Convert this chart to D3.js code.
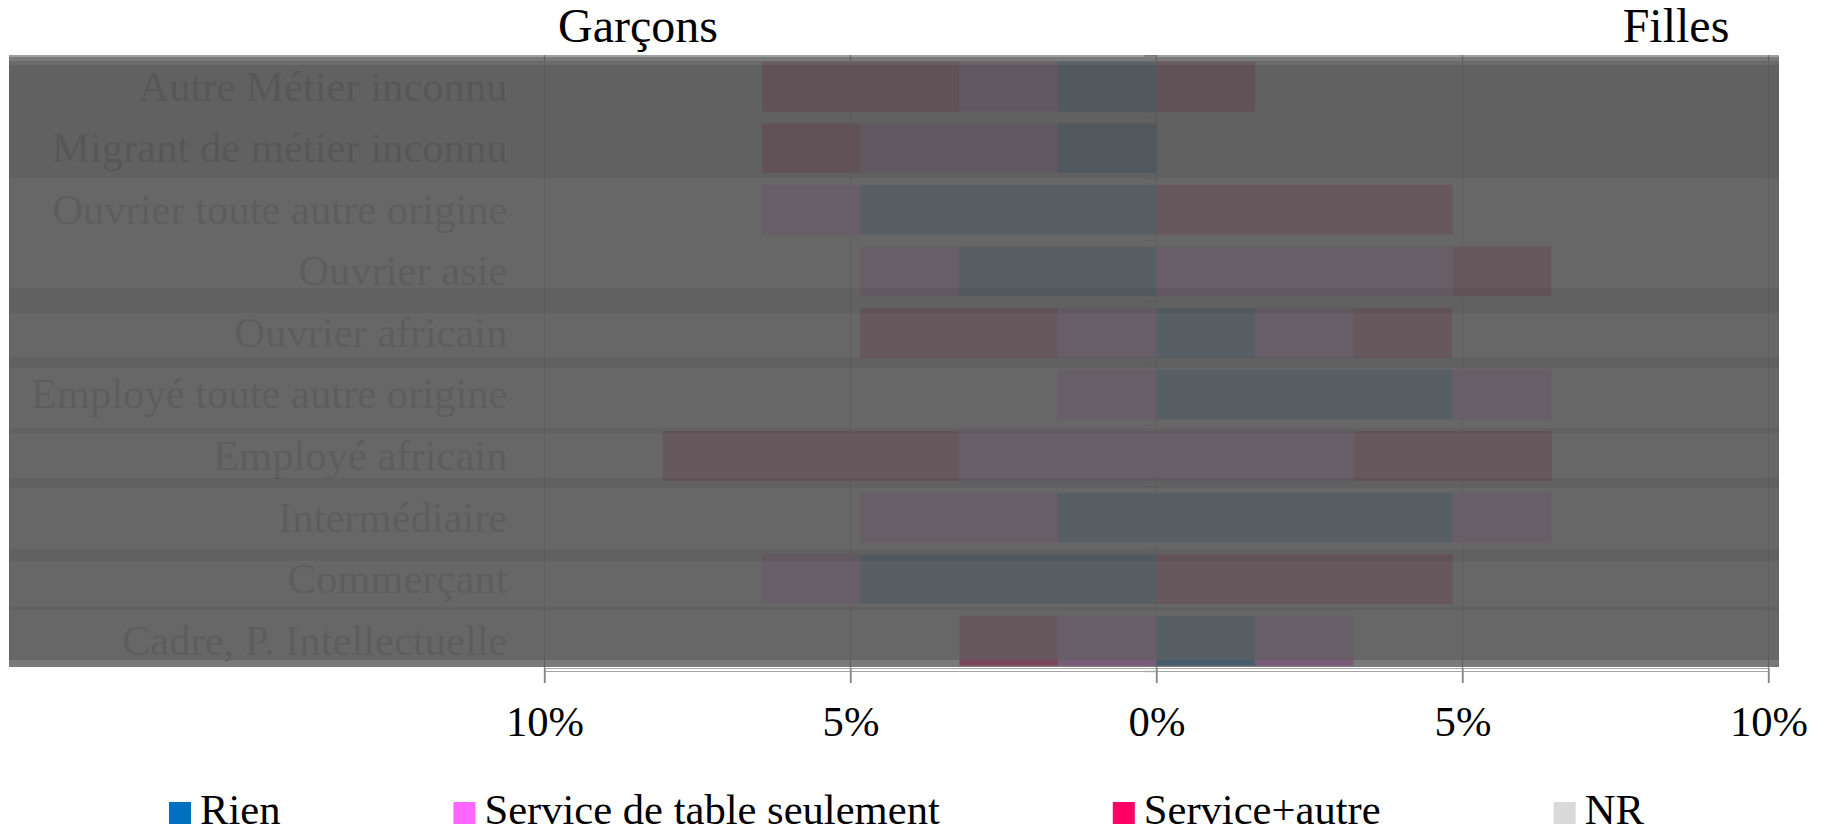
<!DOCTYPE html>
<html lang="fr">
<head>
<meta charset="UTF-8">
<title>Garçons / Filles</title>
<style>
  html, body { margin: 0; padding: 0; background: #fff; }
  svg { display: block; font-family: "Liberation Serif", "Times New Roman", serif; }
</style>
</head>
<body>
<svg id="chart"></svg>
<script src="https://cdn.jsdelivr.net/npm/d3@7/dist/d3.min.js"></script>
<script>
const width = 1823;
const height = 832;

// catégories, du bas vers le haut (ordre Excel)
const categories = [
  'Cadre, P. Intellectuelle',
  'Commerçant',
  'Intermédiaire',
  'Employé africain',
  'Employé toute autre origine',
  'Ouvrier africain',
  'Ouvrier asie',
  'Ouvrier toute autre origine',
  'Migrant de métier inconnu',
  'Autre Métier inconnu'
];
const seriesNames = ['Rien', 'Service de table seulement', 'Service+autre', 'NR'];
const seriesColors = ['#0070C0', '#FF66FF', '#FF0066', '#D9D9D9'];

// valeurs en % (garçons à gauche, filles à droite)
const garconsRien  = [0, 4.84, 1.61, 0, 0, 0, 3.23, 4.84, 1.61, 1.61];
const garconsTable = [1.61, 1.61, 3.23, 3.23, 1.61, 1.61, 1.61, 1.61, 3.23, 1.61];
const garconsAutre = [1.61, 0, 0, 4.84, 0, 3.23, 0, 0, 1.61, 3.23];
const garconsNR    = [0, 0, 0, 0, 0, 0, 0, 0, 0, 0];

const fillesRien  = [1.61, 0, 4.84, 0, 4.84, 1.61, 0, 0, 0, 0];
const fillesTable = [1.61, 0, 1.61, 3.23, 1.61, 1.61, 4.84, 0, 0, 0];
const fillesAutre = [0, 4.84, 0, 3.23, 0, 1.61, 1.61, 4.84, 0, 1.61];
const fillesNR    = [0, 0, 0, 0, 0, 0, 0, 0, 0, 0];

const tickValues = [-10, -5, 0, 5, 10];

// voile gris posé sur la zone de tracé : [y0, y1, gris, opacité]
const shade = [
  [55, 57, 97, 0.6],
  [57, 61, 89, 0.8],
  [61, 65, 97.6, 0.94],
  [65, 178, 86.9, 0.94],
  [178, 288, 93.3, 0.94],
  [288, 313, 86.9, 0.94],
  [313, 357, 93.3, 0.94],
  [357, 368, 86.9, 0.94],
  [368, 428, 93.3, 0.94],
  [428, 433, 86.9, 0.94],
  [433, 478, 93.3, 0.94],
  [478, 488, 86.9, 0.94],
  [488, 549, 94.4, 0.94],
  [549, 561, 86.9, 0.94],
  [561, 607, 93.3, 0.94],
  [607, 610, 86.9, 0.94],
  [610, 660, 94.4, 0.94],
  [660, 667, 89, 0.8]
];

const svg = d3.select('#chart')
  .attr('width', width)
  .attr('height', height);

const x = d3.scaleLinear().domain([-10, 10]).range([544.5, 1768.5]);
const y = d3.scaleBand()
  .domain(categories.slice().reverse())
  .range([55.9, 671.5])
  .paddingInner(0.19)
  .paddingOuter(0.095);

function rows(a, b, c, d) {
  return categories.map((cat, i) => ({ cat, s0: a[i], s1: b[i], s2: c[i], s3: d[i] }));
}
const keys = ['s0', 's1', 's2', 's3'];
const stack = d3.stack().keys(keys);
const leftStack = stack(rows(garconsRien, garconsTable, garconsAutre, garconsNR));
const rightStack = stack(rows(fillesRien, fillesTable, fillesAutre, fillesNR));

const plot = svg.append('g');

// grille verticale
plot.selectAll('line.grid')
  .data(tickValues)
  .enter()
  .append('line')
  .attr('class', 'grid')
  .attr('x1', d => x(d)).attr('x2', d => x(d))
  .attr('y1', 55).attr('y2', 683)
  .attr('stroke', '#868686')
  .attr('stroke-width', 1.3);

// graduations de l'axe des catégories
const bounds = d3.range(categories.length + 1).map(i => y.range()[0] + i * y.step());
plot.selectAll('line.ctick')
  .data(bounds)
  .enter()
  .append('line')
  .attr('x1', x(0) - 12).attr('x2', x(0))
  .attr('y1', d => d).attr('y2', d => d)
  .attr('stroke', '#868686')
  .attr('stroke-width', 1.3);

// barres garçons (vers la gauche)
plot.append('g')
  .selectAll('g')
  .data(leftStack)
  .enter()
  .append('g')
  .attr('fill', (d, i) => seriesColors[i])
  .selectAll('rect')
  .data(d => d)
  .enter()
  .append('rect')
  .attr('x', d => x(-d[1]))
  .attr('width', d => x(-d[0]) - x(-d[1]))
  .attr('y', d => y(d.data.cat))
  .attr('height', y.bandwidth());

// barres filles (vers la droite)
plot.append('g')
  .selectAll('g')
  .data(rightStack)
  .enter()
  .append('g')
  .attr('fill', (d, i) => seriesColors[i])
  .selectAll('rect')
  .data(d => d)
  .enter()
  .append('rect')
  .attr('x', d => x(d[0]))
  .attr('width', d => x(d[1]) - x(d[0]))
  .attr('y', d => y(d.data.cat))
  .attr('height', y.bandwidth());

// étiquettes des catégories
plot.selectAll('text.cat')
  .data(categories)
  .enter()
  .append('text')
  .attr('class', 'cat')
  .attr('x', 507.5)
  .attr('y', d => y(d) + y.bandwidth() / 2 + 14)
  .attr('text-anchor', 'end')
  .attr('font-size', 42.6)
  .attr('fill', '#595959')
  .text(d => d);

// voile
svg.append('g')
  .selectAll('rect')
  .data(shade)
  .enter()
  .append('rect')
  .attr('x', 9)
  .attr('width', 1770)
  .attr('y', d => d[0])
  .attr('height', d => d[1] - d[0])
  .attr('fill', d => `rgb(${d[2]},${d[2]},${d[2]})`)
  .attr('fill-opacity', d => d[3]);

// axe horizontal (double trait)
[668.5, 671.5].forEach(yy => {
  svg.append('line')
    .attr('x1', x(-10)).attr('x2', x(10))
    .attr('y1', yy).attr('y2', yy)
    .attr('stroke', '#a6a6a6')
    .attr('stroke-width', 1.2);
});

const axis = svg.append('g')
  .attr('transform', 'translate(0,668)')
  .call(d3.axisBottom(x)
    .tickValues(tickValues)
    .tickSize(15)
    .tickFormat(d => Math.abs(d) + '%'));
axis.select('.domain').remove();
axis.selectAll('.tick line').attr('stroke', '#868686').attr('stroke-width', 1.3);
axis.selectAll('.tick text')
  .attr('y', 68)
  .attr('dy', 0)
  .attr('fill', '#000')
  .attr('font-size', 42.6)
  .attr('font-family', '"Liberation Serif", "Times New Roman", serif');

// titres
svg.append('text')
  .attr('x', 638).attr('y', 42)
  .attr('text-anchor', 'middle')
  .attr('font-size', 48)
  .text('Garçons');
svg.append('text')
  .attr('x', 1676).attr('y', 42)
  .attr('text-anchor', 'middle')
  .attr('font-size', 48)
  .text('Filles');

// légende
const legend = svg.append('g');
let lx = 169;
seriesNames.forEach((name, i) => {
  const item = legend.append('g');
  item.append('rect')
    .attr('x', lx).attr('y', 802)
    .attr('width', 22).attr('height', 22)
    .attr('fill', seriesColors[i]);
  const t = item.append('text')
    .attr('x', lx + 31).attr('y', 824)
    .attr('font-size', 42.6)
    .text(name);
  lx += 31 + t.node().getComputedTextLength() + 173;
});
</script>
</body>
</html>
